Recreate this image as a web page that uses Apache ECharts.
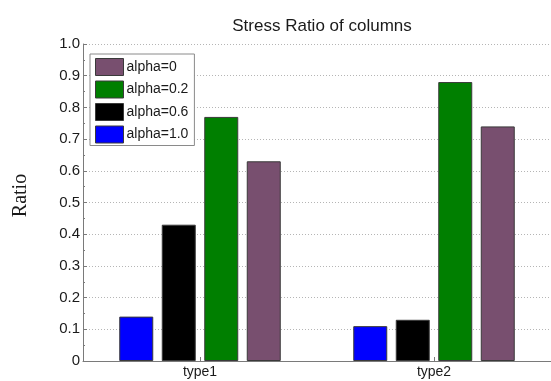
<!DOCTYPE html>
<html>
<head>
<meta charset="utf-8">
<script src="https://cdn.jsdelivr.net/npm/echarts@6/dist/echarts.min.js"></script>
<style>
  html, body { margin: 0; padding: 0; background: #fff; }
  #chart { width: 551px; height: 381px; }
</style>
</head>
<body>
<div id="chart"></div>
<script>
// Column types along the x axis
const categories = ['type1', 'type2'];

// Stress ratio per alpha value (one array per series)
const alpha10 = [0.14, 0.11];
const alpha06 = [0.43, 0.13];
const alpha02 = [0.77, 0.88];
const alpha00 = [0.63, 0.74];

// Y axis range
const yMin = 0;
const yMax = 1.0;
const yStep = 0.1;

const textFont = 'Liberation Sans';
const textColor = '#1a1a1a';
const edge = { borderColor: '#3a3a3a', borderWidth: 1 };

function bar(name, values, color) {
  return {
    name: name,
    type: 'bar',
    data: values,
    barWidth: 34,
    barGap: '25%',
    itemStyle: Object.assign({ color: color }, edge)
  };
}

const chart = echarts.init(document.getElementById('chart'), null, { renderer: 'canvas' });

chart.setOption({
  animation: false,
  backgroundColor: '#fff',
  title: {
    text: 'Stress Ratio of columns',
    left: 317,
    textAlign: 'center',
    top: 13,
    textStyle: { fontFamily: textFont, fontSize: 17, fontWeight: 'normal', color: textColor }
  },
  legend: {
    orient: 'vertical',
    left: 90,
    top: 54,
    data: ['alpha=0', 'alpha=0.2', 'alpha=0.6', 'alpha=1.0'],
    itemWidth: 28,
    itemHeight: 17,
    itemGap: 4.5,
    padding: [4, 6, 2, 5],
    borderColor: '#8a8a8a',
    borderWidth: 1,
    backgroundColor: '#fff',
    icon: 'rect',
    textStyle: { fontFamily: textFont, fontSize: 14, color: textColor, padding: [0, 0, 0, -2] },
    itemStyle: edge
  },
  grid: { left: 83, right: -1, top: 44, bottom: 20, containLabel: false },
  xAxis: {
    type: 'category',
    data: categories,
    boundaryGap: true,
    axisLine: { lineStyle: { color: '#7a7a7a', width: 1 } },
    axisTick: { show: true, inside: true, alignWithLabel: true, length: 4, lineStyle: { color: '#7a7a7a' } },
    axisLabel: { fontFamily: textFont, fontSize: 14, color: textColor, margin: 4 },
    splitLine: { show: false }
  },
  yAxis: {
    type: 'value',
    min: yMin,
    max: yMax,
    interval: yStep,
    name: 'Ratio',
    nameLocation: 'middle',
    nameGap: 52,
    nameRotate: 90,
    nameTextStyle: { fontFamily: 'Liberation Serif', fontSize: 20, color: textColor, padding: [0, 0, 0, 14] },
    axisLine: { show: true, lineStyle: { color: '#7a7a7a', width: 1 } },
    axisTick: { show: true, inside: true, length: 4, lineStyle: { color: '#7a7a7a' } },
    minorTick: { show: true, splitNumber: 2, length: 2, lineStyle: { color: '#7a7a7a' } },
    axisLabel: {
      fontFamily: textFont, fontSize: 15, color: textColor, margin: 3,
      formatter: function (v) { return v === 0 ? '0' : v.toFixed(1); }
    },
    splitLine: { show: true, lineStyle: { color: '#b5b5b5', type: [1, 2], width: 1 } }
  },
  series: [
    bar('alpha=1.0', alpha10, '#0000ff'),
    bar('alpha=0.6', alpha06, '#000000'),
    bar('alpha=0.2', alpha02, '#007f00'),
    bar('alpha=0', alpha00, '#784f6f')
  ]
});
</script>
</body>
</html>
